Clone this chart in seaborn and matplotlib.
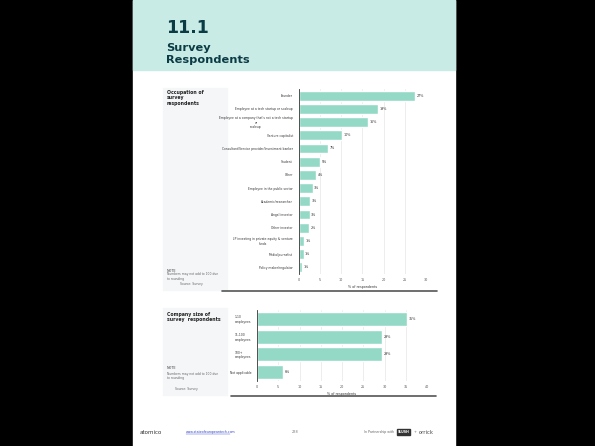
import pandas as pd
import matplotlib.pyplot as plt
import seaborn as sns
from matplotlib.patches import Rectangle
from matplotlib.lines import Line2D

occupations = [
    "Founder",
    "Employee at a tech startup or scaleup",
    "Employee at a company that's not a tech startup\nor\nscaleup",
    "Venture capitalist",
    "Consultant/Service provider/Investment banker",
    "Student",
    "Other",
    "Employee in the public sector",
    "Academic/researcher",
    "Angel investor",
    "Other investor",
    "LP investing in private equity & venture\nfunds",
    "Media/journalist",
    "Policy maker/regulator",
]
occupation_pct = [27.4, 18.7, 16.4, 10.2, 6.9, 5.1, 4.2, 3.3, 2.7, 2.6, 2.5, 1.4, 1.2, 0.8]

company_sizes = ["1-10\nemployees", "11-100\nemployees", "100+\nemployees", "Not applicable"]
company_pct = [35.4, 29.4, 29.4, 6.1]

BAR = "#93d9c6"
DARK = "#0b3b45"
W, H = 595, 446


def fx(x):
    return x / W


def fy(y):
    return 1 - y / H


def box(x0, y0, x1, y1):
    """Axes rectangle from pixel corners (top-left, bottom-right)."""
    return [fx(x0), fy(y1), fx(x1) - fx(x0), fy(y0) - fy(y1)]


def rect(x0, y0, x1, y1, color, z=-5):
    fig.patches.append(Rectangle((fx(x0), fy(y1)), fx(x1) - fx(x0), (y1 - y0) / H,
                                 transform=fig.transFigure, color=color, zorder=z))


def draw_bars(ax, labels, values, xmax, step, height, align):
    df = pd.DataFrame({"label": labels, "pct": values})
    sns.barplot(data=df, y="label", x="pct", color=BAR, width=height,
                saturation=1, ax=ax, zorder=2)
    ax.bar_label(ax.containers[0], labels=[f"{round(v)}%" for v in values],
                 fontsize=2.4, padding=1, color="#333333")
    ax.set_xlim(0, xmax)
    ax.set_xticks(range(0, xmax + 1, step))
    ax.tick_params(axis="x", labelsize=2.4, length=0, pad=3, colors="#555555")
    ax.tick_params(axis="y", labelsize=2.2, length=0, pad=4, colors="#333333")
    for t in ax.get_yticklabels():
        t.set_multialignment(align)
    ax.grid(axis="x", color="#e6e6e6", lw=0.5, zorder=0)
    ax.grid(axis="y", visible=False)
    for s in ["top", "right", "bottom"]:
        ax.spines[s].set_visible(False)
    ax.spines["left"].set_color("#333333")
    ax.spines["left"].set_linewidth(0.6)
    ax.set_ylabel("")
    ax.set_xlabel("% of respondents", fontsize=2.4, labelpad=2, color="#333333")
    ax.set_facecolor("none")


sns.set_style("white")
plt.rcParams["font.family"] = ["DejaVu Sans"]

fig = plt.figure(figsize=(W / 100, H / 100), dpi=100, facecolor="black")

# page, header band, side panels
rect(133, 0, 455, 446, "white", -10)
rect(133, 0, 455, 70, "#c9ebe5", -9)
rect(163, 88, 227, 290, "#f4f6f7")
rect(163, 308, 227, 395, "#f4f6f7")
for x0, x1, y in [(222, 437, 290.5), (231, 436, 395.5)]:
    fig.lines.append(Line2D([fx(x0), fx(x1)], [fy(y), fy(y)], transform=fig.transFigure,
                            color="#555555", lw=1.2))

fig.text(fx(166), fy(28), "11.1", fontsize=12.5, fontweight="bold", color=DARK, va="center")
fig.text(fx(166), fy(54), "Survey\nRespondents", fontsize=8.2, fontweight="bold",
         color=DARK, va="center", linespacing=1.25)

fig.text(fx(167), fy(98), "Occupation of\nsurvey\nrespondents", fontsize=3.3,
         fontweight="bold", color="#222222", va="center", linespacing=1.1)
fig.text(fx(167), fy(271), "NOTE", fontsize=2.4, color="#444444", va="center")
fig.text(fx(167), fy(279), "Numbers may not add to 100 due\nto rounding\n             Source: Survey",
         fontsize=2.2, color="#666666", va="center", linespacing=1.2)

fig.text(fx(167), fy(317), "Company size of\nsurvey  respondents", fontsize=3.3,
         fontweight="bold", color="#222222", va="center", linespacing=1.1)
fig.text(fx(167), fy(368), "NOTE", fontsize=2.4, color="#444444", va="center")
fig.text(fx(167), fy(376), "Numbers may not add to 100 due\nto rounding", fontsize=2.2,
         color="#666666", va="center", linespacing=1.2)
fig.text(fx(175), fy(389), "Source: Survey", fontsize=2.2, color="#666666", va="center")

# charts
ax1 = fig.add_axes(box(298.5, 89, 426, 274))
draw_bars(ax1, occupations, occupation_pct, 30, 5, 0.75, "center")

ax2 = fig.add_axes(box(257, 310, 427, 381))
draw_bars(ax2, company_sizes, company_pct, 40, 5, 0.8, "left")

# footer
fig.text(fx(140), fy(432), "atomico", fontsize=4, color="#333333", va="center")
fig.text(fx(186), fy(432), "www.stateofeuropeantech.com", fontsize=2.3, color="#3344cc",
         va="center")
fig.lines.append(Line2D([fx(186), fx(230)], [fy(434), fy(434)], transform=fig.transFigure,
                        color="#3344cc", lw=0.3))
fig.text(fx(295), fy(432), "238", fontsize=2.5, color="#777777", va="center", ha="center")
fig.text(fx(394), fy(432), "In Partnership with", fontsize=2.3, color="#666666",
         va="center", ha="right")
rect(397, 429, 410, 435, "#333333", 1)
fig.text(fx(403.5), fy(432), "SLUSH", fontsize=2.3, color="white", va="center", ha="center",
         fontweight="bold")
fig.text(fx(414), fy(432), "+", fontsize=2.5, color="#666666", va="center")
fig.text(fx(419), fy(432), "orrick", fontsize=3.8, color="#444444", va="center")

fig.savefig("out.png", dpi=100, facecolor="black")
